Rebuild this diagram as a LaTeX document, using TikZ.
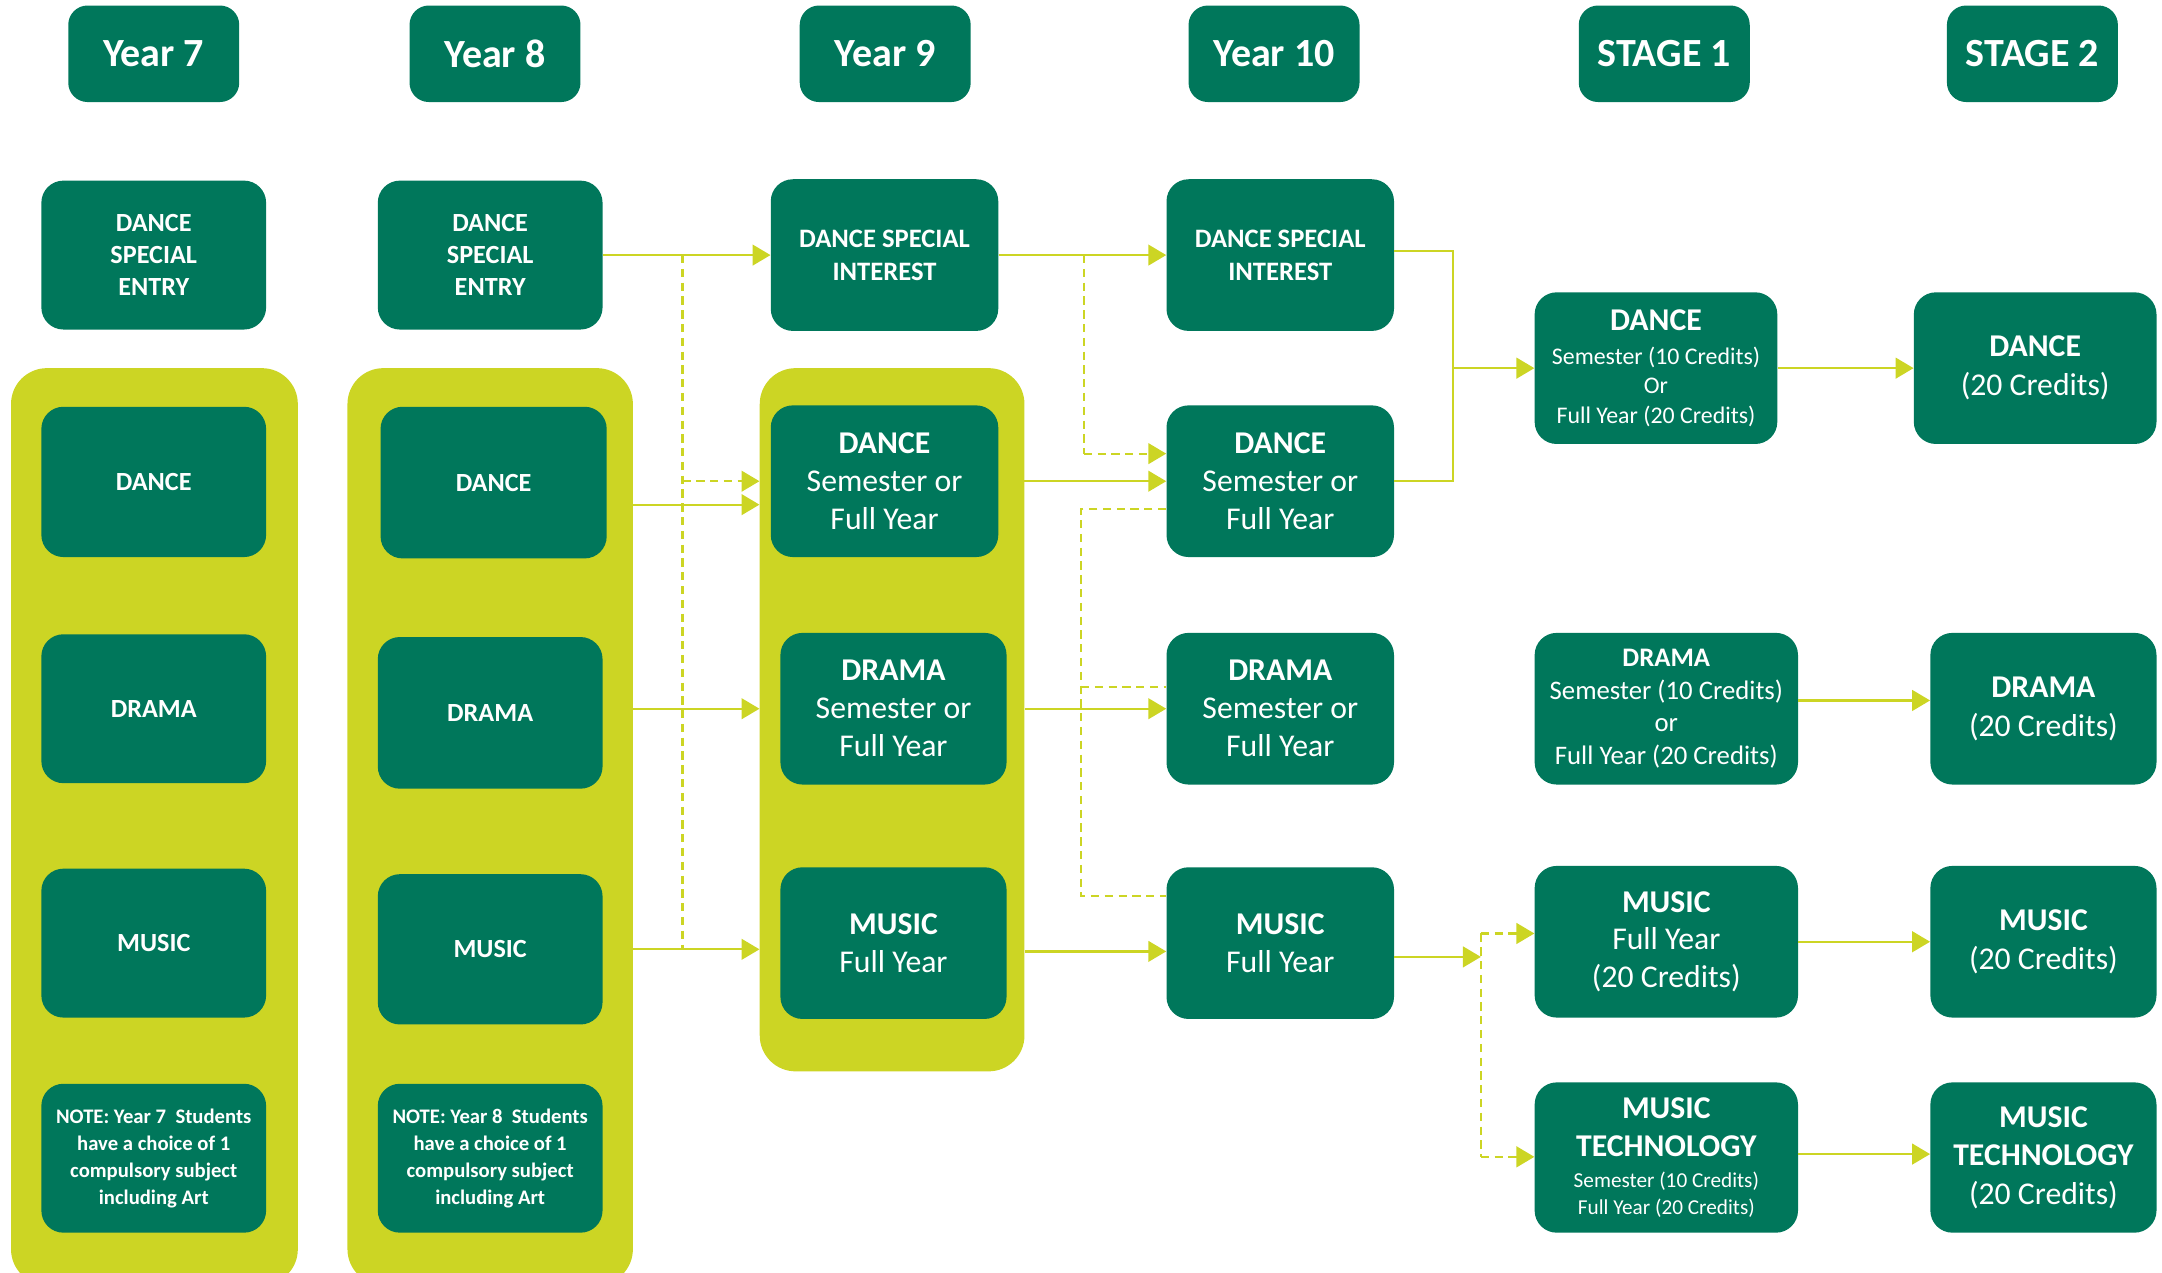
\documentclass[tikz,border=0pt]{standalone}
\usepackage{fontspec}
\setmainfont{Carlito}
\usetikzlibrary{arrows.meta,calc}
\definecolor{dgreen}{HTML}{00775B}
\definecolor{ygreen}{HTML}{CCD524}
\newcommand\fsz[2]{\fontsize{#1}{#2}\selectfont}
\begin{document}
\begin{tikzpicture}[x=1pt,y=-1pt,
 box/.style={fill=dgreen, text=white, rounded corners=16pt, align=center, inner sep=0pt},
 hdr/.style={box, minimum width=124pt, minimum height=70pt, rounded corners=14pt, font=\bfseries\fsz{29}{34}},
 panel/.style={fill=ygreen, rounded corners=26pt, inner sep=0pt},
 ln/.style={draw=ygreen, line width=1.6pt},
 arr/.style={ln, -{Triangle[length=13pt,width=15pt]}},
 dsh/.style={ln, dash pattern=on 6pt off 4pt},
 darr/.style={dsh, -{Triangle[length=13pt,width=15pt]}},
 sm/.style={box, font=\bfseries\fsz{19}{23}},
 big/.style={box, font=\fsz{23}{27.5}},
 note/.style={box, font=\bfseries\fsz{15}{19.5}},
]
\useasboundingbox (0,0) rectangle (1568,923);

% headers
\node[hdr] (h7)  at (111.5,39) {Year 7};
\node[hdr] (h8)  at (359,39)   {Year 8};
\node[hdr] (h9)  at (642,39)   {Year 9};
\node[hdr] (h10) at (924,39)   {Year 10};
\node[hdr] (hs1) at (1207,39)  {STAGE 1};
\node[hdr] (hs2) at (1474,39)  {STAGE 2};

% panels
\begin{scope}
\clip (0,0) rectangle (1568,923);
\node[panel, minimum width=208pt, minimum height=665pt] (p7) at (112,599.5) {};
\node[panel, minimum width=207pt, minimum height=665pt] (p8) at (355.5,599.5) {};
\end{scope}
\node[panel, minimum width=192pt, minimum height=510pt] (p9) at (647,522) {};

% Year 7
\node[sm, minimum width=163pt, minimum height=108pt] (dse7) at (111.5,185) {DANCE\\SPECIAL\\ENTRY};
\node[sm, minimum width=163pt, minimum height=109pt] (d7)  at (111.5,349.5) {DANCE};
\node[sm, minimum width=163pt, minimum height=108pt] (dr7) at (111.5,514) {DRAMA};
\node[sm, minimum width=163pt, minimum height=108pt] (m7)  at (111.5,684) {MUSIC};
\node[note, minimum width=163pt, minimum height=108pt] (n7) at (111.5,840)
  {NOTE: Year 7\ \ Students\\have a choice of 1\\compulsory subject\\including Art};

% Year 8
\node[sm, minimum width=163pt, minimum height=108pt] (dse8) at (355.5,185) {DANCE\\SPECIAL\\ENTRY};
\node[sm, minimum width=164pt, minimum height=110pt] (d8)  at (358,350) {DANCE};
\node[sm, minimum width=163pt, minimum height=110pt] (dr8) at (355.5,517) {DRAMA};
\node[sm, minimum width=163pt, minimum height=109pt] (m8)  at (355.5,688.5) {MUSIC};
\node[note, minimum width=163pt, minimum height=108pt] (n8) at (355.5,840)
  {NOTE: Year 8\ \ Students\\have a choice of 1\\compulsory subject\\including Art};

% Year 9
\node[sm, minimum width=165pt, minimum height=110pt, font=\bfseries\fsz{19.3}{24}] (dsi9) at (641.5,185) {DANCE SPECIAL\\INTEREST};
\node[big, minimum width=165pt, minimum height=110pt] (d9)  at (641.5,349) {{\bfseries DANCE}\\Semester or\\Full Year};
\node[big, minimum width=164pt, minimum height=110pt] (dr9) at (648,514) {{\bfseries DRAMA}\\Semester or\\Full Year};
\node[big, minimum width=164pt, minimum height=110pt] (m9)  at (648,684) {{\bfseries MUSIC}\\Full Year};

% Year 10
\node[sm, minimum width=165pt, minimum height=110pt, font=\bfseries\fsz{19.3}{24}] (dsi10) at (928.5,185) {DANCE SPECIAL\\INTEREST};
\node[big, minimum width=165pt, minimum height=110pt] (d10)  at (928.5,349) {{\bfseries DANCE}\\Semester or\\Full Year};
\node[big, minimum width=165pt, minimum height=110pt] (dr10) at (928.5,514) {{\bfseries DRAMA}\\Semester or\\Full Year};
\node[big, minimum width=165pt, minimum height=110pt] (m10)  at (928.5,684) {{\bfseries MUSIC}\\Full Year};

% Stage 1
\node[box, minimum width=176pt, minimum height=110pt, font=\fsz{17.3}{21.5}] (s1d) at (1201,267)
  {{\fsz{23}{27}\bfseries DANCE}\\[3pt]Semester (10 Credits)\\Or\\Full Year (20 Credits)};
\node[box, minimum width=191pt, minimum height=110pt, font=\fsz{19.4}{23.5}] (s1dr) at (1208.5,514)
  {{\bfseries DRAMA}\\Semester (10 Credits)\\or\\Full Year (20 Credits)};
\node[big, minimum width=191pt, minimum height=110pt] (s1m) at (1208.5,683)
  {{\bfseries MUSIC}\\Full Year\\(20 Credits)};
\node[box, minimum width=191pt, minimum height=109pt, font=\fsz{15.4}{19}] (s1mt) at (1208.5,839.5)
  {{\fsz{23}{27}\bfseries MUSIC}\\[8pt]{\fsz{23}{27}\bfseries TECHNOLOGY}\\[4pt]Semester (10 Credits)\\Full Year (20 Credits)};

% Stage 2
\node[box, minimum width=176pt, minimum height=110pt, font=\fsz{23}{28.5}] (s2d) at (1476,267) {{\bfseries DANCE}\\(20 Credits)};
\node[box, minimum width=164pt, minimum height=110pt, font=\fsz{23}{28.5}] (s2dr) at (1482,514) {{\bfseries DRAMA}\\(20 Credits)};
\node[box, minimum width=164pt, minimum height=110pt, font=\fsz{23}{28.5}] (s2m) at (1482,683) {{\bfseries MUSIC}\\(20 Credits)};
\node[box, minimum width=164pt, minimum height=109pt, font=\fsz{23}{28}] (s2mt) at (1482,839.5) {{\bfseries MUSIC}\\{\bfseries TECHNOLOGY}\\(20 Credits)};

% junction coordinates
\coordinate (j8) at (495,185);
\coordinate (j9) at (786,185);
\coordinate (j10) at (784,369);
\coordinate (j11) at (1054,182);
\coordinate (j12) at (1074,694);

% Year 8 -> Year 9
\draw[arr] (dse8.east) -- (dsi9.west);
\draw[dsh] (j8) -- (j8 |- m8.east);
\draw[darr] (j8 |- d9.west) -- (p9.west |- d9.west);
\draw[arr] (p8.east |- 0,366) -- (p9.west |- 0,366);
\draw[arr] (p8.east |- dr9.west) -- (p9.west |- dr9.west);
\draw[arr] (p8.east |- m8.east) -- (p9.west |- m8.east);

% Year 9 -> Year 10
\draw[arr] (dsi9.east) -- (dsi10.west);
\draw[dsh] (j9) -- (j9 |- 0,329);
\draw[darr] (j9 |- 0,329) -- (d10.west |- 0,329);
\draw[arr] (d9.east) -- (d10.west);
\draw[dsh] (d10.west |- j10) -- (j10) -- (j10 |- 0,650) -- (m10.west |- 0,650);
\draw[dsh] (j10 |- 0,498) -- (dr10.west |- 0,498);
\draw[arr] (p9.east |- dr10.west) -- (dr10.west);
\draw[arr] (p9.east |- 0,690) -- (m10.west |- 0,690);

% Year 10 -> Stage 1
\draw[ln] (dsi10.east |- j11) -- (j11) -- (j11 |- d10.east) -- (d10.east);
\draw[arr] (j11 |- s1d.west) -- (s1d.west);
\draw[arr] (m10.east |- j12) -- (j12);
\draw[dsh] (j12 |- 0,677) -- (j12 |- 0,839);
\draw[darr] (j12 |- 0,677) -- (s1m.west |- 0,677);
\draw[darr] (j12 |- 0,839) -- (s1mt.west |- 0,839);

% Stage 1 -> Stage 2
\draw[arr] (s1d.east) -- (s2d.west |- s1d.east);
\draw[arr] (s1dr.east |- 0,508) -- (s2dr.west |- 0,508);
\draw[arr] (s1m.east) -- (s2m.west);
\draw[arr] (s1mt.east |- 0,837) -- (s2mt.west |- 0,837);
\end{tikzpicture}
\end{document}
